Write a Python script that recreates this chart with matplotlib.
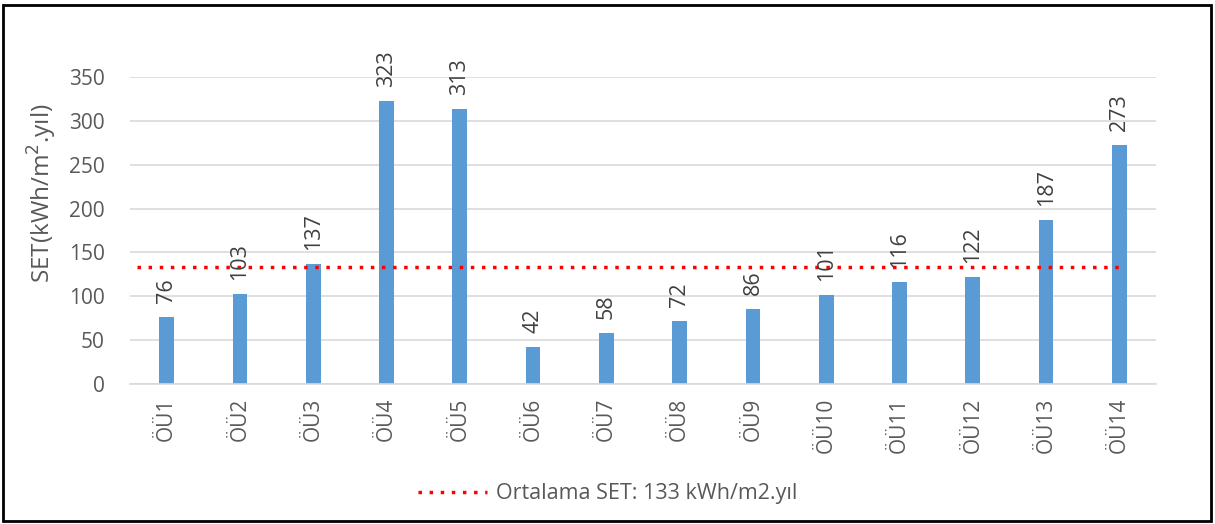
import numpy as np
import matplotlib.pyplot as plt
from matplotlib.patches import Rectangle

plt.rcParams['font.family'] = ['Open Sans', 'DejaVu Sans']

categories = ['ÖÜ1', 'ÖÜ2', 'ÖÜ3', 'ÖÜ4', 'ÖÜ5', 'ÖÜ6', 'ÖÜ7',
              'ÖÜ8', 'ÖÜ9', 'ÖÜ10', 'ÖÜ11', 'ÖÜ12', 'ÖÜ13', 'ÖÜ14']
set_values = [76, 103, 137, 323, 313, 42, 58, 72, 86, 101, 116, 122, 187, 273]
mean_set = 133
yticks = [0, 50, 100, 150, 200, 250, 300, 350]

gray = '#595959'

fig = plt.figure(figsize=(12.15, 5.24), dpi=100)
ax = fig.add_axes([130 / 1215, 1 - 384 / 524, 1026 / 1215, 307 / 524])

x = np.arange(len(categories))
ax.bar(x, set_values, width=0.2, color='#5B9BD5', zorder=2)
for xi, v in zip(x, set_values):
    ax.text(xi, v + 16, str(v), rotation=90, ha='center', va='bottom',
            fontsize=15.5, color='#404040', clip_on=False, zorder=4)

ax.hlines(mean_set, -0.4, len(categories) - 1, colors='red', linestyles=(0, (1, 2.2)),
          linewidth=2.5, zorder=3, label='Ortalama SET: 133 kWh/m2.yıl')

ax.set_xlim(-0.5, len(categories) - 0.5)
ax.set_ylim(0, 350)
ax.set_yticks(yticks)
ax.set_xticks(x)
ax.set_xticklabels(categories, rotation=90)
ax.tick_params(axis='both', length=0, labelsize=15, colors=gray)
ax.tick_params(axis='y', pad=18)
ax.tick_params(axis='x', pad=10)
ax.grid(axis='y', color='#D9D9D9', linewidth=1.2, zorder=0)
for s in ['top', 'right', 'left']:
    ax.spines[s].set_visible(False)
ax.spines['bottom'].set_color('#D9D9D9')
ax.spines['bottom'].set_linewidth(1.2)

fig.text(42 / 1215, 1 - 193 / 524, 'SET(kWh/m$^2$.yıl)', rotation=90,
         ha='center', va='center', fontsize=17.5, color=gray)

fig.legend(loc='center', bbox_to_anchor=(0.5, 1 - 494 / 524), frameon=False,
           fontsize=15.5, labelcolor=gray, handlelength=3.2, handletextpad=0.4)

fig.patches.append(Rectangle((3 / 1215, 3 / 524), 1208 / 1215, 516 / 524,
                             transform=fig.transFigure, fill=False,
                             edgecolor='black', linewidth=2))

plt.savefig('out.png', dpi=100)
